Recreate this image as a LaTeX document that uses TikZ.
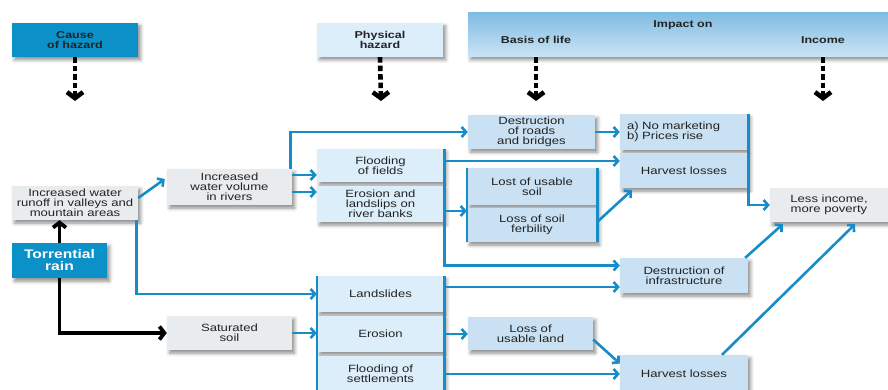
\documentclass[tikz,border=0pt]{standalone}
\usepackage{fontspec}
\setmainfont{Liberation Sans}[FakeStretch=1.25]
\usetikzlibrary{arrows.meta,shadows.blur,calc}

\definecolor{hdrblue}{RGB}{12,144,200}
\definecolor{physblue}{RGB}{221,238,251}
\definecolor{impblue}{RGB}{201,225,243}
\definecolor{greybox}{RGB}{233,236,238}
\definecolor{linkblue}{RGB}{22,140,200}
\definecolor{txt}{RGB}{35,35,35}
\definecolor{bandtop}{RGB}{128,188,226}
\definecolor{bandbot}{RGB}{204,228,245}

\tikzset{
  shade box/.style={blur shadow={shadow xshift=2.5pt,shadow yshift=-3pt,
      shadow blur radius=3.5pt,shadow opacity=45}},
  base/.style={shade box,inner sep=0pt,align=center,text=txt,
      font=\fontsize{10.5}{10}\selectfont},
  gbox/.style={base,fill=greybox},
  pbox/.style={base,fill=physblue},
  ibox/.style={base,fill=impblue},
  hdrbox/.style={shade box,inner sep=0pt,align=center,
      font=\bfseries\fontsize{10}{10}\selectfont},
  hdrtext/.style={font=\bfseries\fontsize{10}{10}\selectfont,text=txt},
  sz/.style 2 args={minimum width=#1pt,minimum height=#2pt},
  link/.style={draw=linkblue,line width=2.6pt,
      -{Straight Barb[length=4.5pt,width=10pt]}},
  bar/.style={draw=linkblue,line width=2.6pt},
  blk/.style={draw=black,line width=3.8pt,
      -{Straight Barb[length=5pt,width=13pt]}},
  hdrarrow/.style={draw=black,line width=4.6pt,dash pattern=on 5.5pt off 3pt,
      -{Straight Barb[length=6pt,width=16pt]}},
}

\begin{document}
\begin{tikzpicture}[x=1pt,y=-1pt]
\useasboundingbox (0,0) rectangle (888,390);

% ---- column headers ----
\node[hdrbox,fill=hdrblue,text=txt,sz={126}{34}] (cause) at (75,40) {Cause\\of hazard};
\node[hdrbox,fill=physblue,text=txt,sz={126}{34}] (phys) at (380,40) {Physical\\hazard};
\node[hdrbox,top color=bandtop,bottom color=bandbot,sz={420}{44}] (band) at (678,35) {};
\node[hdrtext] (impact) at (683,25) {Impact on};
\node[hdrtext] (basis) at (536,40) {Basis of life};
\node[hdrtext] (incomehd) at (823,40) {Income};

\coordinate (c1) at (75,101);
\coordinate (c2) at (381,101);
\coordinate (c3) at (536,101);
\coordinate (c4) at (823,101);
\draw[hdrarrow] (cause.south) -- (c1);
\draw[hdrarrow] (phys.south) -- (c2);
\draw[hdrarrow] (basis |- band.south) -- (c3);
\draw[hdrarrow] (incomehd |- band.south) -- (c4);

% ---- causes ----
\node[gbox,sz={126}{34}] (runoff) at (75,203) {Increased water\\runoff in valleys and\\mountain areas};
\node[hdrbox,fill=hdrblue,text=white,sz={95}{35},
      font=\bfseries\fontsize{12.5}{12}\selectfont] (torrent) at (59.5,260.5) {Torrential\\rain};

\node[gbox,sz={125}{36}] (water) at (229.5,187) {Increased\\water volume\\in rivers};
\node[gbox,sz={125}{34}] (sat) at (229.5,333) {Saturated\\soil};

% ---- physical hazards ----
\node[pbox,sz={127}{33}] (flood) at (380.5,165.5) {Flooding\\of fields};
\node[pbox,sz={127}{36}] (erosion) at (380.5,204) {Erosion and\\landslips on\\river banks};
\node[pbox,sz={127}{36}] (land) at (380.5,294) {Landslides};
\node[pbox,sz={127}{36}] (eros2) at (380.5,334) {Erosion};
\node[pbox,sz={127}{36}] (settle) at (380.5,374) {Flooding of\\settlements};

% ---- impact on basis of life ----
\node[ibox,sz={127}{34}] (roads) at (531.5,132) {Destruction\\of roads\\and bridges};
\node[ibox,sz={130}{37}] (soil) at (532,186.5) {Lost of usable\\soil};
\node[ibox,sz={130}{34}] (fert) at (532,225) {Loss of soil\\ferbility};
\node[ibox,sz={125}{33}] (lossland) at (530.5,333.5) {Loss of\\usable land};

\node[ibox,sz={128}{36},align=left,text width=114pt] (nomkt) at (684,132) {a) No marketing\\b) Prices rise};
\node[ibox,sz={128}{35}] (harv1) at (684,170.5) {Harvest losses};
\node[ibox,sz={128}{35}] (infra) at (684,275.5) {Destruction of\\infrastructure};
\node[ibox,sz={128}{37}] (harv2) at (684,373.5) {Harvest losses};

% ---- impact on income ----
\node[gbox,sz={118}{34}] (income) at (829,205) {Less income,\\more poverty};

% ---- black links from the cause ----
\draw[blk] (torrent.north) -- (torrent.north |- runoff.south);
\draw[blk] (torrent.south) |- (sat.west);

% ---- blue links ----
\draw[link] ([yshift=5pt]runoff.east) -- ([xshift=-2pt,yshift=8pt]water.west);
\draw[link] ([xshift=-2pt]runoff.south east) |- (land.west);

\draw[link] ([yshift=12pt]water.east) -- ([yshift=12pt]water.east -| flood.west);
\draw[link] ([yshift=-5pt]water.east) -- ([yshift=-5pt]water.east -| erosion.west);
\draw[link] ([xshift=-2pt]water.north east) |- (roads.west);

\draw[link] (flood.north east) |- ([yshift=10pt]infra.west);
\draw[link] ([yshift=4.5pt]flood.east) -- ([yshift=4.5pt]flood.east -| harv1.west);
\draw[link] ([yshift=-7pt]erosion.east) -- ([yshift=-7pt]erosion.east -| soil.west);

\draw[bar] (soil.north west) -- (fert.south west);
\draw[bar] (soil.north east) -- (fert.south east);
\draw[link] ([yshift=3pt]fert.east) -- ([xshift=12pt,yshift=-2pt]harv1.south west);

\draw[link] (roads.east) -- (roads.east -| nomkt.west);
\draw[link] (nomkt.north east) |- (income.west);
\draw[link] ([xshift=-3pt]infra.north east) -- ([xshift=13pt,yshift=-2pt]income.south west);

\draw[bar] (land.north west) -- (settle.south west);
\draw[bar] (land.north east) -- (settle.south east);
\draw[link] ([yshift=7pt]land.east) -- ([yshift=7pt]land.east -| infra.west);
\draw[link] (sat.east) -- (sat.east -| eros2.west);
\draw[link] (eros2.east) -- (eros2.east -| lossland.west);
\draw[link] ([yshift=-6pt]lossland.east) -- ([yshift=10pt]harv2.west);
\draw[link] (settle.east) -- (settle.east -| harv2.west);
\draw[link] ([xshift=38pt]harv2.north) -- ([xshift=26pt,yshift=-2pt]income.south);
\end{tikzpicture}
\end{document}
